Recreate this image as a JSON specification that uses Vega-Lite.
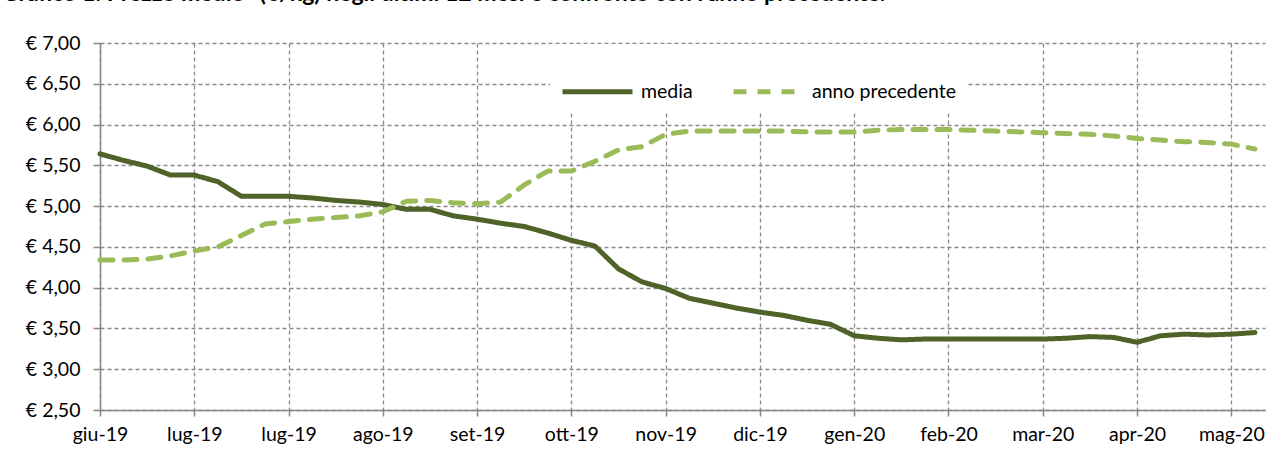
{
  "$schema": "https://vega.github.io/schema/vega-lite/v6.json",
  "width": 1165,
  "height": 367,
  "autosize": {"type": "none"},
  "padding": {"left": 100, "top": 43, "right": 19, "bottom": 42},
  "background": "white",
  "config": {"view": {"stroke": null}, "font": "Lato"},
  "title": {
    "text": "Grafico 1: Prezzo medio* (€/kg) negli ultimi 12 mesi e confronto con l'anno precedente.",
    "anchor": "start",
    "frame": "group",
    "font": "Lato",
    "fontSize": 23,
    "fontWeight": "bold",
    "color": "#000000",
    "baseline": "alphabetic",
    "offset": 9,
    "dx": -98,
    "dy": 0
  },
  "data": {
    "values": [
      {"data": "2019-06-03", "serie": "media", "valore": 5.64},
      {"data": "2019-06-10", "serie": "media", "valore": 5.56},
      {"data": "2019-06-17", "serie": "media", "valore": 5.49},
      {"data": "2019-06-24", "serie": "media", "valore": 5.38},
      {"data": "2019-07-01", "serie": "media", "valore": 5.38},
      {"data": "2019-07-08", "serie": "media", "valore": 5.30},
      {"data": "2019-07-15", "serie": "media", "valore": 5.12},
      {"data": "2019-07-22", "serie": "media", "valore": 5.12},
      {"data": "2019-07-29", "serie": "media", "valore": 5.12},
      {"data": "2019-08-05", "serie": "media", "valore": 5.10},
      {"data": "2019-08-12", "serie": "media", "valore": 5.07},
      {"data": "2019-08-19", "serie": "media", "valore": 5.05},
      {"data": "2019-08-26", "serie": "media", "valore": 5.02},
      {"data": "2019-09-02", "serie": "media", "valore": 4.96},
      {"data": "2019-09-09", "serie": "media", "valore": 4.96},
      {"data": "2019-09-16", "serie": "media", "valore": 4.88},
      {"data": "2019-09-23", "serie": "media", "valore": 4.84},
      {"data": "2019-09-30", "serie": "media", "valore": 4.79},
      {"data": "2019-10-07", "serie": "media", "valore": 4.75},
      {"data": "2019-10-14", "serie": "media", "valore": 4.67},
      {"data": "2019-10-21", "serie": "media", "valore": 4.58},
      {"data": "2019-10-28", "serie": "media", "valore": 4.51},
      {"data": "2019-11-04", "serie": "media", "valore": 4.23},
      {"data": "2019-11-11", "serie": "media", "valore": 4.07},
      {"data": "2019-11-18", "serie": "media", "valore": 3.99},
      {"data": "2019-11-25", "serie": "media", "valore": 3.87},
      {"data": "2019-12-02", "serie": "media", "valore": 3.81},
      {"data": "2019-12-09", "serie": "media", "valore": 3.75},
      {"data": "2019-12-16", "serie": "media", "valore": 3.70},
      {"data": "2019-12-23", "serie": "media", "valore": 3.66},
      {"data": "2019-12-30", "serie": "media", "valore": 3.60},
      {"data": "2020-01-06", "serie": "media", "valore": 3.55},
      {"data": "2020-01-13", "serie": "media", "valore": 3.41},
      {"data": "2020-01-20", "serie": "media", "valore": 3.38},
      {"data": "2020-01-27", "serie": "media", "valore": 3.36},
      {"data": "2020-02-03", "serie": "media", "valore": 3.37},
      {"data": "2020-02-10", "serie": "media", "valore": 3.37},
      {"data": "2020-02-17", "serie": "media", "valore": 3.37},
      {"data": "2020-02-24", "serie": "media", "valore": 3.37},
      {"data": "2020-03-02", "serie": "media", "valore": 3.37},
      {"data": "2020-03-09", "serie": "media", "valore": 3.37},
      {"data": "2020-03-16", "serie": "media", "valore": 3.38},
      {"data": "2020-03-23", "serie": "media", "valore": 3.40},
      {"data": "2020-03-30", "serie": "media", "valore": 3.39},
      {"data": "2020-04-06", "serie": "media", "valore": 3.33},
      {"data": "2020-04-13", "serie": "media", "valore": 3.41},
      {"data": "2020-04-20", "serie": "media", "valore": 3.43},
      {"data": "2020-04-27", "serie": "media", "valore": 3.42},
      {"data": "2020-05-04", "serie": "media", "valore": 3.43},
      {"data": "2020-05-11", "serie": "media", "valore": 3.45},
      {"data": "2019-06-03", "serie": "anno precedente", "valore": 4.34},
      {"data": "2019-06-10", "serie": "anno precedente", "valore": 4.34},
      {"data": "2019-06-17", "serie": "anno precedente", "valore": 4.35},
      {"data": "2019-06-24", "serie": "anno precedente", "valore": 4.39},
      {"data": "2019-07-01", "serie": "anno precedente", "valore": 4.45},
      {"data": "2019-07-08", "serie": "anno precedente", "valore": 4.50},
      {"data": "2019-07-15", "serie": "anno precedente", "valore": 4.64},
      {"data": "2019-07-22", "serie": "anno precedente", "valore": 4.78},
      {"data": "2019-07-29", "serie": "anno precedente", "valore": 4.81},
      {"data": "2019-08-05", "serie": "anno precedente", "valore": 4.84},
      {"data": "2019-08-12", "serie": "anno precedente", "valore": 4.86},
      {"data": "2019-08-19", "serie": "anno precedente", "valore": 4.88},
      {"data": "2019-08-26", "serie": "anno precedente", "valore": 4.93},
      {"data": "2019-09-02", "serie": "anno precedente", "valore": 5.06},
      {"data": "2019-09-09", "serie": "anno precedente", "valore": 5.07},
      {"data": "2019-09-16", "serie": "anno precedente", "valore": 5.04},
      {"data": "2019-09-23", "serie": "anno precedente", "valore": 5.03},
      {"data": "2019-09-30", "serie": "anno precedente", "valore": 5.05},
      {"data": "2019-10-07", "serie": "anno precedente", "valore": 5.26},
      {"data": "2019-10-14", "serie": "anno precedente", "valore": 5.43},
      {"data": "2019-10-21", "serie": "anno precedente", "valore": 5.43},
      {"data": "2019-10-28", "serie": "anno precedente", "valore": 5.55},
      {"data": "2019-11-04", "serie": "anno precedente", "valore": 5.69},
      {"data": "2019-11-11", "serie": "anno precedente", "valore": 5.73},
      {"data": "2019-11-18", "serie": "anno precedente", "valore": 5.88},
      {"data": "2019-11-25", "serie": "anno precedente", "valore": 5.92},
      {"data": "2019-12-02", "serie": "anno precedente", "valore": 5.92},
      {"data": "2019-12-09", "serie": "anno precedente", "valore": 5.92},
      {"data": "2019-12-16", "serie": "anno precedente", "valore": 5.92},
      {"data": "2019-12-23", "serie": "anno precedente", "valore": 5.92},
      {"data": "2019-12-30", "serie": "anno precedente", "valore": 5.91},
      {"data": "2020-01-06", "serie": "anno precedente", "valore": 5.91},
      {"data": "2020-01-13", "serie": "anno precedente", "valore": 5.91},
      {"data": "2020-01-20", "serie": "anno precedente", "valore": 5.93},
      {"data": "2020-01-27", "serie": "anno precedente", "valore": 5.94},
      {"data": "2020-02-03", "serie": "anno precedente", "valore": 5.94},
      {"data": "2020-02-10", "serie": "anno precedente", "valore": 5.94},
      {"data": "2020-02-17", "serie": "anno precedente", "valore": 5.93},
      {"data": "2020-02-24", "serie": "anno precedente", "valore": 5.92},
      {"data": "2020-03-02", "serie": "anno precedente", "valore": 5.91},
      {"data": "2020-03-09", "serie": "anno precedente", "valore": 5.90},
      {"data": "2020-03-16", "serie": "anno precedente", "valore": 5.89},
      {"data": "2020-03-23", "serie": "anno precedente", "valore": 5.88},
      {"data": "2020-03-30", "serie": "anno precedente", "valore": 5.86},
      {"data": "2020-04-06", "serie": "anno precedente", "valore": 5.83},
      {"data": "2020-04-13", "serie": "anno precedente", "valore": 5.81},
      {"data": "2020-04-20", "serie": "anno precedente", "valore": 5.79},
      {"data": "2020-04-27", "serie": "anno precedente", "valore": 5.78},
      {"data": "2020-05-04", "serie": "anno precedente", "valore": 5.76},
      {"data": "2020-05-11", "serie": "anno precedente", "valore": 5.70}
    ]
  },
  "mark": {"type": "line", "strokeWidth": 5, "strokeCap": "round", "strokeJoin": "round"},
  "encoding": {
    "x": {
      "field": "data",
      "type": "temporal",
      "scale": {
        "type": "utc",
        "domain": [
          {"year": 2019, "month": 6, "date": 3, "utc": true},
          {"year": 2020, "month": 5, "date": 14, "utc": true}
        ]
      },
      "axis": {
        "title": null,
        "values": [
          {"year": 2019, "month": 6, "date": 3, "utc": true},
          {"year": 2019, "month": 7, "date": 1, "utc": true},
          {"year": 2019, "month": 7, "date": 29, "utc": true},
          {"year": 2019, "month": 8, "date": 26, "utc": true},
          {"year": 2019, "month": 9, "date": 23, "utc": true},
          {"year": 2019, "month": 10, "date": 21, "utc": true},
          {"year": 2019, "month": 11, "date": 18, "utc": true},
          {"year": 2019, "month": 12, "date": 16, "utc": true},
          {"year": 2020, "month": 1, "date": 13, "utc": true},
          {"year": 2020, "month": 2, "date": 10, "utc": true},
          {"year": 2020, "month": 3, "date": 9, "utc": true},
          {"year": 2020, "month": 4, "date": 6, "utc": true},
          {"year": 2020, "month": 5, "date": 4, "utc": true}
        ],
        "labelExpr": "['gen','feb','mar','apr','mag','giu','lug','ago','set','ott','nov','dic'][utcmonth(datum.value)] + '-' + utcFormat(datum.value, '%y')",
        "labelFont": "Lato",
        "labelFontSize": 19.5,
        "labelColor": "#000000",
        "labelPadding": 9,
        "labelFlush": false,
        "labelOverlap": false,
        "tickSize": 6,
        "tickColor": "#868686",
        "tickWidth": 1.5,
        "domainColor": "#868686",
        "domainWidth": 1.5,
        "grid": true,
        "gridColor": "#8a8a8a",
        "gridDash": [4, 3],
        "gridWidth": 1.3
      }
    },
    "y": {
      "field": "valore",
      "type": "quantitative",
      "scale": {"domain": [2.5, 7], "nice": false, "zero": false},
      "axis": {
        "title": null,
        "values": [2.5, 3, 3.5, 4, 4.5, 5, 5.5, 6, 6.5, 7],
        "labelExpr": "'€ ' + replace(format(datum.value, '.2f'), '.', ',')",
        "labelFont": "Lato",
        "labelFontSize": 19.5,
        "labelColor": "#000000",
        "labelPadding": 13,
        "tickSize": 7,
        "tickColor": "#868686",
        "tickWidth": 1.5,
        "domainColor": "#868686",
        "domainWidth": 1.5,
        "grid": true,
        "gridColor": "#8a8a8a",
        "gridDash": [4, 3],
        "gridWidth": 1.3
      }
    },
    "color": {
      "field": "serie",
      "type": "nominal",
      "sort": ["media", "anno precedente"],
      "scale": {"domain": ["media", "anno precedente"], "range": ["#4f6228", "#9bbb59"]},
      "legend": {
        "orient": "none",
        "legendX": 450,
        "legendY": 1,
        "direction": "horizontal",
        "title": null,
        "fillColor": "white",
        "padding": 10,
        "symbolType": "stroke",
        "symbolSize": 4900,
        "symbolStrokeWidth": 5,
        "labelFont": "Lato",
        "labelFontSize": 19.5,
        "labelColor": "#000000",
        "labelOffset": 6,
        "columnPadding": 30
      }
    },
    "strokeDash": {
      "field": "serie",
      "type": "nominal",
      "sort": ["media", "anno precedente"],
      "scale": {"domain": ["media", "anno precedente"], "range": [[1, 0], [13, 11]]},
      "legend": {
        "orient": "none",
        "legendX": 450,
        "legendY": 1,
        "direction": "horizontal",
        "title": null,
        "fillColor": "white",
        "padding": 10,
        "symbolType": "stroke",
        "symbolSize": 4900,
        "symbolStrokeWidth": 5,
        "labelFont": "Lato",
        "labelFontSize": 19.5,
        "labelColor": "#000000",
        "labelOffset": 6,
        "columnPadding": 30
      }
    }
  }
}
